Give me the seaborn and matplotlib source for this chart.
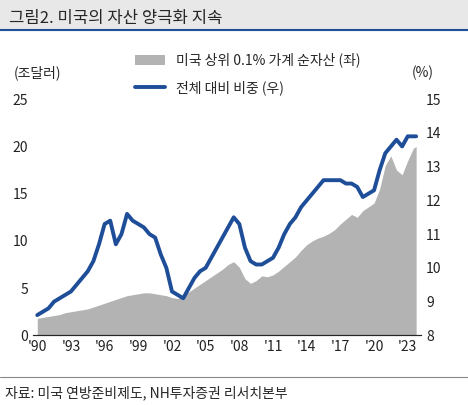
import matplotlib
matplotlib.use("Agg")
import matplotlib.pyplot as plt
import seaborn as sns
import numpy as np

sns.set_style("white")
plt.rcParams['font.family'] = ['Noto Sans CJK KR', 'DejaVu Sans']

years = [1990,1990.5,1991,1991.5,1992,1992.5,1993,1993.5,1994,1994.5,1995,1995.5,1996,1996.5,1997,1997.5,1998,1998.5,1999,1999.5,2000,2000.5,2001,2001.5,2002,2002.5,2003,2003.5,2004,2004.5,2005,2005.5,2006,2006.5,2007,2007.5,2008,2008.5,2009,2009.5,2010,2010.5,2011,2011.5,2012,2012.5,2013,2013.5,2014,2014.5,2015,2015.5,2016,2016.5,2017,2017.5,2018,2018.5,2019,2019.5,2020,2020.5,2021,2021.5,2022,2022.5,2023,2023.5,2023.75]
wealth = [1.8,1.9,2.0,2.1,2.2,2.4,2.5,2.6,2.7,2.8,3.0,3.2,3.4,3.6,3.8,4.0,4.2,4.3,4.4,4.5,4.5,4.4,4.3,4.2,4.0,3.9,4.2,4.6,5.0,5.4,5.8,6.2,6.6,7.0,7.5,7.8,7.2,6.0,5.5,5.8,6.3,6.2,6.4,6.8,7.3,7.8,8.3,9.0,9.6,10.0,10.3,10.5,10.8,11.2,11.8,12.3,12.8,12.5,13.2,13.6,14.0,15.5,18.0,19.0,17.5,17.0,18.5,19.8,20.0]
share = [8.6,8.7,8.8,9.0,9.1,9.2,9.3,9.5,9.7,9.9,10.2,10.7,11.3,11.4,10.7,11.0,11.6,11.4,11.3,11.2,11.0,10.9,10.4,10.0,9.3,9.2,9.1,9.4,9.7,9.9,10.0,10.3,10.6,10.9,11.2,11.5,11.3,10.6,10.2,10.1,10.1,10.2,10.3,10.6,11.0,11.3,11.5,11.8,12.0,12.2,12.4,12.6,12.6,12.6,12.6,12.5,12.5,12.4,12.1,12.2,12.3,12.9,13.4,13.6,13.8,13.6,13.9,13.9,13.9]
xtick_vals = [1990,1993,1996,1999,2002,2005,2008,2011,2014,2017,2020,2023]
xtick_labels = ["'90","'93","'96","'99","'02","'05","'08","'11","'14","'17","'20","'23"]

fig = plt.figure(figsize=(4.68,4.05), dpi=100)
ax = fig.add_axes([0.07,0.172,0.83,0.583])
ax.fill_between(years, wealth, color='#b3b3b3', lw=0, label='미국 상위 0.1% 가계 순자산 (좌)')
ax.set_ylim(0,25); ax.set_xlim(1989.6,2024.2)
ax.set_yticks(range(0,26,5))
ax.set_xticks(xtick_vals); ax.set_xticklabels(xtick_labels)
ax2 = ax.twinx()
sns.lineplot(x=years, y=share, ax=ax2, color='#1f4e99', lw=2.8, label='전체 대비 비중 (우)')
ax2.set_ylim(8,15); ax2.set_yticks(range(8,16))
for a in (ax, ax2):
    for s in ['top','left','right']:
        a.spines[s].set_visible(False)
    a.tick_params(labelsize=10, length=0, colors='#222222')
ax.spines['bottom'].set_color('#444444')
ax.tick_params(axis='x', length=3, direction='in')
h1,l1 = ax.get_legend_handles_labels(); h2,l2 = ax2.get_legend_handles_labels()
ax2.legend(h1+h2, l1+l2, loc='upper left', bbox_to_anchor=(0.23,1.25), frameon=False, fontsize=10, handlelength=2.2, labelspacing=0.9)
fig.text(0.03,0.81,'(조달러)', fontsize=10)
fig.text(0.88,0.81,'(%)', fontsize=10)
fig.patches.append(plt.Rectangle((0,0.925),1,0.075, transform=fig.transFigure, color='#e8e8e8'))
fig.text(0.02,0.955,'그림2. 미국의 자산 양극화 지속', fontsize=12, va='center')
fig.add_artist(plt.Line2D([0,1],[0.925,0.925], color='#1f4e99', lw=1.5))
fig.add_artist(plt.Line2D([0,1],[0.07,0.07], color='#888888', lw=0.8))
fig.text(0.01,0.03,'자료: 미국 연방준비제도, NH투자증권 리서치본부', fontsize=10, va='center')
fig.savefig('out.png', dpi=100)
